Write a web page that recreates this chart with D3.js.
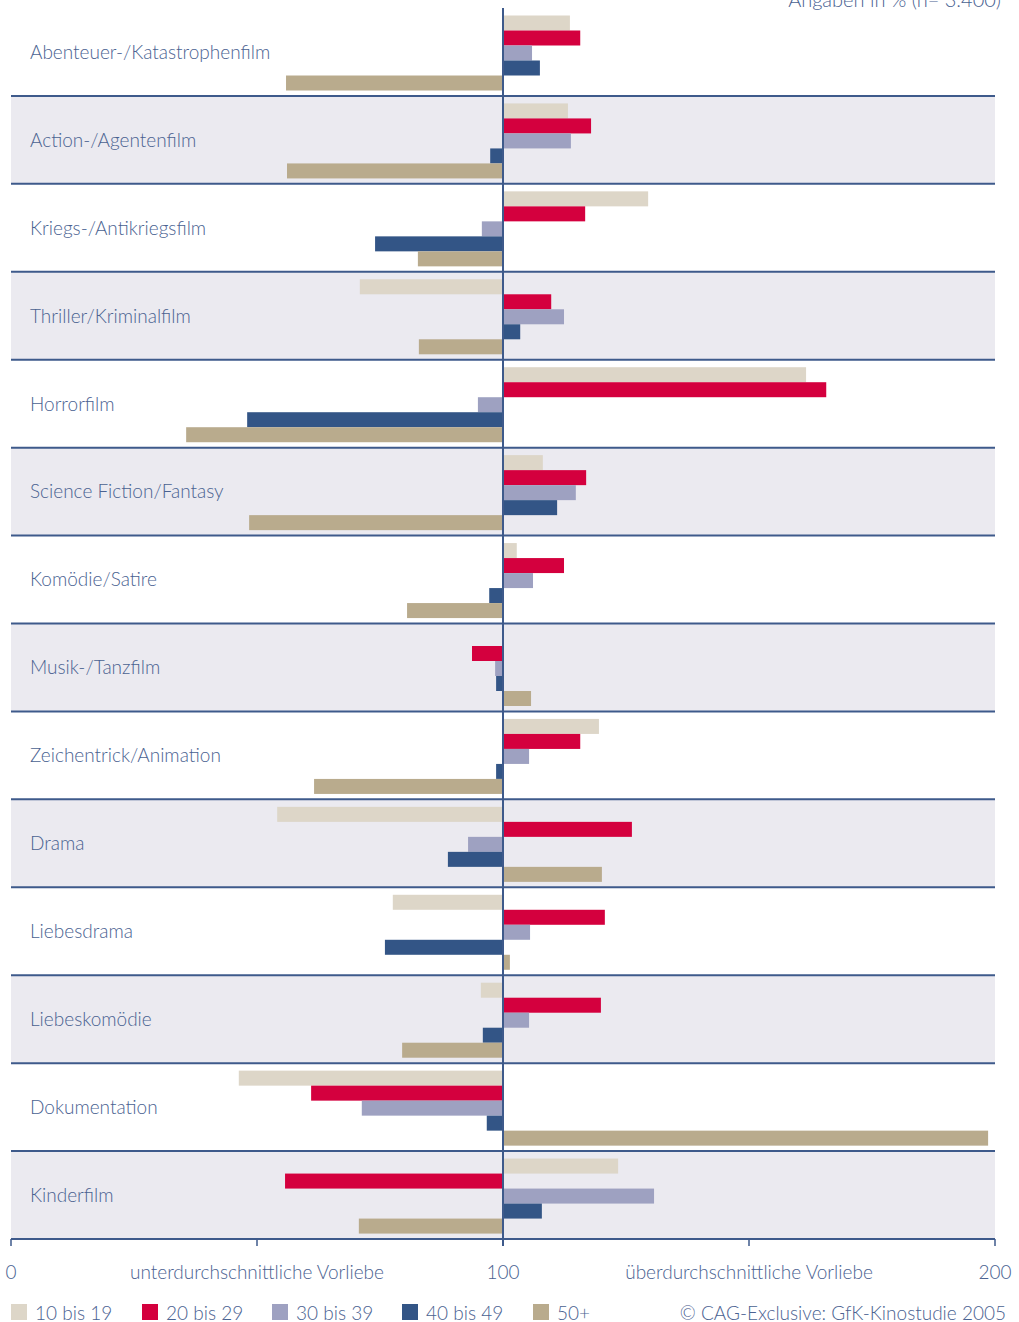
<!DOCTYPE html>
<html>
<head>
<meta charset="utf-8">
<script src="https://cdn.jsdelivr.net/npm/d3@7"></script>
<style>
  html, body { margin: 0; padding: 0; background: #ffffff; }
  svg { display: block; }
  text { font-family: Lato, "Open Sans", sans-serif; font-weight: 300; fill: #4a6291; }
</style>
</head>
<body>
<svg id="chart" width="1019" height="1322"></svg>
<script>
// Film genres (rows, top to bottom)
const genres = [
  "Abenteuer-/Katastrophenfilm",
  "Action-/Agentenfilm",
  "Kriegs-/Antikriegsfilm",
  "Thriller/Kriminalfilm",
  "Horrorfilm",
  "Science Fiction/Fantasy",
  "Komödie/Satire",
  "Musik-/Tanzfilm",
  "Zeichentrick/Animation",
  "Drama",
  "Liebesdrama",
  "Liebeskomödie",
  "Dokumentation",
  "Kinderfilm"
];

// Age groups
const ageGroups = ["10 bis 19", "20 bis 29", "30 bis 39", "40 bis 49", "50+"];
const ageColors = ["#ddd6c8", "#d4003e", "#9ea1c1", "#335586", "#b9ab8d"];

// Preference index per genre (100 = average), one array per age group
const age10to19 = [113.6, 113.2, 129.5, 70.9, 161.6, 108.1, 102.8, 100.0, 119.5, 54.1, 77.6, 95.5, 46.3, 123.4];
const age20to29 = [115.7, 117.9, 116.7, 109.8, 165.7, 116.9, 112.4, 93.7, 115.7, 126.2, 120.7, 119.9, 61.0, 55.7];
const age30to39 = [105.9, 113.8, 95.7, 112.4, 94.9, 114.8, 106.1, 98.4, 105.3, 92.9, 105.5, 105.3, 71.3, 130.7];
const age40to49 = [107.5, 97.4, 74.0, 103.5, 48.0, 111.0, 97.2, 98.6, 98.6, 88.8, 76.0, 95.9, 96.7, 107.9];
const age50plus = [55.9, 56.1, 82.7, 82.9, 35.6, 48.4, 80.5, 105.7, 61.6, 120.1, 101.4, 79.5, 198.6, 70.7];
const seriesValues = [age10to19, age20to29, age30to39, age40to49, age50plus];

// Axis
const axisTicks = [0, 50, 100, 150, 200];
const axisTickLabels = ["0", "unterdurchschnittliche Vorliebe", "100", "überdurchschnittliche Vorliebe", "200"];

const noteText = "Angaben in % (n= 3.400)";
const sourceText = "© CAG-Exclusive: GfK-Kinostudie 2005";

const svg = d3.select("#chart");
const lineColor = "#3e5a8b";
const bandColor = "#ebeaf0";

const x = d3.scaleLinear().domain([0, 200]).range([11, 995]);
const y = d3.scaleBand().domain(genres).range([8, 1239]);
const barY = d3.scaleBand().domain(ageGroups).range([7.5, 82.5]);

// Alternating row backgrounds
svg.append("g").selectAll("rect")
  .data(genres)
  .join("rect")
  .attr("x", x(0))
  .attr("y", d => y(d))
  .attr("width", x(200) - x(0))
  .attr("height", y.bandwidth())
  .attr("fill", (d, i) => i % 2 === 1 ? bandColor : "#ffffff");

// Genre labels
svg.append("g").selectAll("text")
  .data(genres)
  .join("text")
  .attr("x", 30)
  .attr("y", d => y(d) + y.bandwidth() / 2)
  .attr("dy", "0.36em")
  .attr("font-size", 19)
  .text(d => d);

// Bars, growing from the 100 line
const rows = svg.append("g").selectAll("g")
  .data(genres)
  .join("g")
  .attr("transform", d => `translate(0,${y(d)})`);

rows.selectAll("rect")
  .data((g, gi) => ageGroups.map((a, ai) => ({ age: a, ai, v: seriesValues[ai][gi] })))
  .join("rect")
  .attr("x", d => Math.min(x(d.v), x(100)))
  .attr("y", d => barY(d.age))
  .attr("width", d => Math.abs(x(d.v) - x(100)))
  .attr("height", barY.bandwidth())
  .attr("fill", d => ageColors[d.ai]);

// Row separators (the last one is the axis baseline)
svg.append("g").selectAll("line")
  .data(genres)
  .join("line")
  .attr("x1", x(0))
  .attr("x2", x(200))
  .attr("y1", d => y(d) + y.bandwidth())
  .attr("y2", d => y(d) + y.bandwidth())
  .attr("stroke", lineColor)
  .attr("stroke-width", 2);

// Axis ticks below the baseline
const baseY = y.range()[1];
svg.append("g").selectAll("line")
  .data(axisTicks)
  .join("line")
  .attr("x1", d => x(d))
  .attr("x2", d => x(d))
  .attr("y1", baseY)
  .attr("y2", baseY + 7)
  .attr("stroke", lineColor)
  .attr("stroke-width", 1.5);

// Centre line at 100
svg.append("line")
  .attr("x1", x(100)).attr("x2", x(100))
  .attr("y1", 8).attr("y2", baseY + 7)
  .attr("stroke", lineColor)
  .attr("stroke-width", 2);

// Axis labels
svg.append("g").selectAll("text")
  .data(axisTicks)
  .join("text")
  .attr("x", d => x(d))
  .attr("y", 1279)
  .attr("text-anchor", "middle")
  .attr("font-size", 19)
  .text((d, i) => axisTickLabels[i]);

// Legend
const legendX = [11, 142, 272, 402, 533];
const legend = svg.append("g").selectAll("g")
  .data(ageGroups)
  .join("g")
  .attr("transform", (d, i) => `translate(${legendX[i]},1304)`);
legend.append("rect")
  .attr("width", 16).attr("height", 16)
  .attr("fill", (d, i) => ageColors[i]);
legend.append("text")
  .attr("x", 24).attr("y", 15.5)
  .attr("font-size", 19)
  .text(d => d);

// Source and note
svg.append("text")
  .attr("x", 1006).attr("y", 1319.5)
  .attr("text-anchor", "end")
  .attr("font-size", 19)
  .text(sourceText);

svg.append("text")
  .attr("x", 1001).attr("y", 7)
  .attr("text-anchor", "end")
  .attr("font-size", 20)
  .text(noteText);
</script>
</body>
</html>
